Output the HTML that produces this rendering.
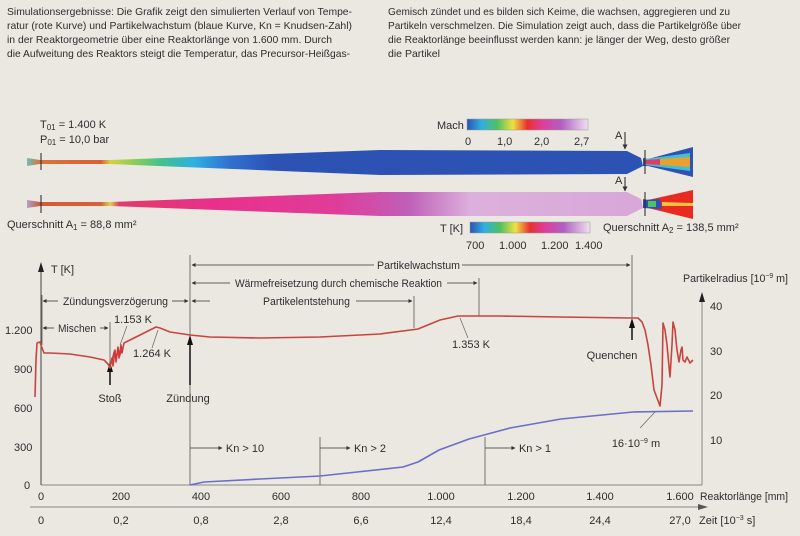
<!DOCTYPE html>
<html><head><meta charset="utf-8"><style>
html,body{margin:0;padding:0;background:#ebe7e1;}
svg{display:block;}
text{font-family:"Liberation Sans Narrow","Liberation Sans",sans-serif;fill:#2e2e2e;}
</style></head><body>
<svg width="800" height="536" viewBox="0 0 800 536" xmlns="http://www.w3.org/2000/svg">
<defs>
<linearGradient id="gU" x1="27" x2="643" gradientUnits="userSpaceOnUse">
<stop offset="0" stop-color="#6ac0c0"/><stop offset="0.02" stop-color="#d9743a"/>
<stop offset="0.12" stop-color="#d8603a"/><stop offset="0.135" stop-color="#d8d040"/>
<stop offset="0.17" stop-color="#90d050"/><stop offset="0.22" stop-color="#40c090"/>
<stop offset="0.27" stop-color="#30b0e0"/><stop offset="0.33" stop-color="#3070d0"/>
<stop offset="0.4" stop-color="#2c52b4"/><stop offset="1" stop-color="#2c52b4"/>
</linearGradient>
<linearGradient id="gL" x1="27" x2="643" gradientUnits="userSpaceOnUse">
<stop offset="0" stop-color="#b0a0d0"/><stop offset="0.02" stop-color="#d05a3a"/>
<stop offset="0.12" stop-color="#d8603a"/><stop offset="0.135" stop-color="#e0d050"/>
<stop offset="0.15" stop-color="#e03c6a"/><stop offset="0.3" stop-color="#e8308a"/>
<stop offset="0.5" stop-color="#e03c9a"/><stop offset="0.62" stop-color="#c060b8"/>
<stop offset="0.72" stop-color="#dcb0dc"/><stop offset="1" stop-color="#d8a8d8"/>
</linearGradient>
<linearGradient id="gBar" x1="0" x2="1">
<stop offset="0" stop-color="#2c52b4"/><stop offset="0.12" stop-color="#30b0e0"/>
<stop offset="0.25" stop-color="#50c060"/><stop offset="0.38" stop-color="#f0e040"/>
<stop offset="0.5" stop-color="#e83030"/><stop offset="0.62" stop-color="#e03c9a"/>
<stop offset="0.78" stop-color="#b060c0"/><stop offset="1" stop-color="#f0e0f0"/>
</linearGradient>
<marker id="ar" viewBox="0 0 10 10" refX="9" refY="5" markerWidth="5" markerHeight="5" orient="auto"><path d="M0,0 L10,5 L0,10z" fill="#333"/></marker>
</defs>

<g font-size="10.5">
<text x="7" y="15" textLength="345" lengthAdjust="spacingAndGlyphs">Simulationsergebnisse: Die Grafik zeigt den simulierten Verlauf von Tempe-</text>
<text x="7" y="29" textLength="345" lengthAdjust="spacingAndGlyphs">ratur (rote Kurve) und Partikelwachstum (blaue Kurve, Kn = Knudsen-Zahl)</text>
<text x="7" y="43" textLength="325" lengthAdjust="spacingAndGlyphs">in der Reaktorgeometrie über eine Reaktorlänge von 1.600 mm. Durch</text>
<text x="7" y="57" textLength="343" lengthAdjust="spacingAndGlyphs">die Aufweitung des Reaktors steigt die Temperatur, das Precursor-Heißgas-</text>
<text x="388" y="15" textLength="342" lengthAdjust="spacingAndGlyphs">Gemisch zündet und es bilden sich Keime, die wachsen, aggregieren und zu</text>
<text x="388" y="29" textLength="353" lengthAdjust="spacingAndGlyphs">Partikeln verschmelzen. Die Simulation zeigt auch, dass die Partikelgröße über</text>
<text x="388" y="43" textLength="342" lengthAdjust="spacingAndGlyphs">die Reaktorlänge beeinflusst werden kann: je länger der Weg, desto größer</text>
<text x="388" y="57" textLength="52" lengthAdjust="spacingAndGlyphs">die Partikel</text>
</g>

<path d="M27,158 L40,160 L110,160 L380,150 L627,151 L641,158 L643,166 L641,167 L627,174 L380,175 L110,164 L40,164 L27,166z" fill="url(#gU)"/>
<path d="M27,200 L40,202 L110,202 L380,192 L627,192 L641,199 L643,208 L641,209 L627,216 L380,216 L110,206 L40,206 L27,208z" fill="url(#gL)"/>
<path d="M643,158 L648,159 L693,147 L693,177 L648,166 L643,166z" fill="#2c52b4"/>
<path d="M645,159 L690,153 L690,171 L645,165z" fill="#40c0d0"/>
<path d="M646,160 L690,157 L690,167 L646,164z" fill="#e8a030"/>
<path d="M645,160 L660,159 L660,165 L645,164z" fill="#e03c6a"/>
<path d="M643,199 L648,200 L693,190 L693,219 L648,208 L643,208z" fill="#e82a20"/>
<path d="M643,200 L660,199 L662,209 L643,208z" fill="#2c52b4"/>
<path d="M648,201 L656,201 L656,207 L648,207z" fill="#50c060"/>
<path d="M662,202 L693,203 L693,206 L662,206z" fill="#f0c040"/>
<g stroke="#222" stroke-width="1" fill="#222">
<line x1="41" y1="153" x2="41" y2="170"/><line x1="41" y1="195" x2="41" y2="213"/>
<line x1="645" y1="150" x2="645" y2="174"/><line x1="645" y1="192" x2="645" y2="216"/>
<line x1="625" y1="132" x2="625" y2="149" marker-end="url(#ar)"/>
<line x1="625" y1="177" x2="625" y2="191" marker-end="url(#ar)"/>
</g>
<g font-size="11">
<text x="40" y="128">T<tspan font-size="8" dy="2">01</tspan><tspan dy="-2"> = 1.400 K</tspan></text>
<text x="40" y="143">P<tspan font-size="8" dy="2">01</tspan><tspan dy="-2"> = 10,0 bar</tspan></text>
<text x="7" y="228">Querschnitt A<tspan font-size="8" dy="2">1</tspan><tspan dy="-2"> = 88,8 mm²</tspan></text>
<text x="603" y="231">Querschnitt A<tspan font-size="8" dy="2">2</tspan><tspan dy="-2"> = 138,5 mm²</tspan></text>
<text x="615" y="139">A</text><text x="615" y="184">A</text>
<text x="437" y="129">Mach</text>
<text x="465" y="145">0</text><text x="497" y="145">1,0</text><text x="534" y="145">2,0</text><text x="574" y="145">2,7</text>
<text x="440" y="232">T [K]</text>
<text x="466" y="249">700</text><text x="499" y="249">1.000</text><text x="541" y="249">1.200</text><text x="575" y="249">1.400</text>
</g>
<rect x="467" y="119" width="121" height="11" fill="url(#gBar)" stroke="#999" stroke-width="0.5"/>
<rect x="470" y="222" width="120" height="11" fill="url(#gBar)" stroke="#999" stroke-width="0.5"/>

<g stroke="#888" stroke-width="1" fill="none">
<line x1="41" y1="485" x2="702" y2="485"/>
<line x1="702" y1="298" x2="702" y2="485"/>
<line x1="30" y1="507" x2="700" y2="507"/>
</g>
<line x1="41" y1="270" x2="41" y2="485" stroke="#444" stroke-width="1"/>
<path d="M38,272 L41,262 L44,272z" fill="#222"/>
<path d="M699,302 L702,292 L705,302z" fill="#222"/>
<path d="M698,504 L708,507 L698,510z" fill="#555"/>

<g stroke="#555" stroke-width="0.8" fill="none">
<line x1="190" y1="255" x2="190" y2="485"/>
<line x1="632" y1="255" x2="632" y2="318"/>
<line x1="479" y1="278" x2="479" y2="316"/>
<line x1="414" y1="296" x2="414" y2="328"/>
<line x1="110" y1="322" x2="110" y2="380"/>
<line x1="320" y1="437" x2="320" y2="485"/>
<line x1="485" y1="437" x2="485" y2="485"/>
<line x1="42" y1="295" x2="42" y2="345"/>
</g>
<g stroke="#333" stroke-width="0.8" marker-end="url(#ar)">
<line x1="374" y1="265" x2="192" y2="265"/><line x1="462" y1="265" x2="630" y2="265"/>
<line x1="230" y1="283" x2="192" y2="283"/><line x1="447" y1="283" x2="477" y2="283"/>
<line x1="58" y1="301" x2="43" y2="301"/><line x1="172" y1="301" x2="188" y2="301"/>
<line x1="210" y1="301" x2="192" y2="301"/><line x1="356" y1="301" x2="412" y2="301"/>
<line x1="54" y1="328" x2="43" y2="328"/><line x1="100" y1="328" x2="108" y2="328"/>
<line x1="190" y1="448" x2="222" y2="448"/><line x1="320" y1="448" x2="350" y2="448"/>
<line x1="485" y1="448" x2="515" y2="448"/>
</g>
<g font-size="11">
<text x="377" y="269" textLength="83" lengthAdjust="spacingAndGlyphs">Partikelwachstum</text>
<text x="235" y="287" textLength="207" lengthAdjust="spacingAndGlyphs">Wärmefreisetzung durch chemische Reaktion</text>
<text x="63" y="305" textLength="105" lengthAdjust="spacingAndGlyphs">Zündungsverzögerung</text>
<text x="263" y="305" textLength="87" lengthAdjust="spacingAndGlyphs">Partikelentstehung</text>
<text x="58" y="332" textLength="38" lengthAdjust="spacingAndGlyphs">Mischen</text>
</g>
<g font-size="11" text-anchor="middle">
<text x="133" y="323">1.153 K</text>
<text x="152" y="357">1.264 K</text>
<text x="471" y="348">1.353 K</text>
<text x="612" y="359">Quenchen</text>
<text x="110" y="402">Stoß</text>
<text x="188" y="402">Zündung</text>
<text x="636" y="447">16·10<tspan font-size="7" dy="-4">−9</tspan><tspan dy="4"> m</tspan></text>
<text x="245" y="452">Kn &gt; 10</text>
<text x="370" y="452">Kn &gt; 2</text>
<text x="535" y="452">Kn &gt; 1</text>
</g>
<g stroke="#666" stroke-width="0.7">
<line x1="127" y1="326" x2="120" y2="345"/>
<line x1="152" y1="348" x2="158" y2="330"/>
<line x1="468" y1="338" x2="460" y2="318"/>
<line x1="640" y1="428" x2="655" y2="412"/>
</g>
<g stroke="#111" stroke-width="1.5">
<line x1="110" y1="385" x2="110" y2="370"/><line x1="190" y1="385" x2="190" y2="343"/><line x1="632" y1="340" x2="632" y2="326"/>
</g>
<path d="M107,372 L110,362 L113,372z M187,345 L190,335 L193,345z M629,328 L632,318 L635,328z" fill="#111"/>

<g font-size="11">
<text x="51" y="273">T [K]</text>
<text x="5" y="334">1.200</text>
<text x="14" y="373">900</text>
<text x="14" y="412">600</text>
<text x="14" y="451">300</text>
<text x="24" y="489">0</text>
<text x="683" y="282" textLength="105" lengthAdjust="spacingAndGlyphs">Partikelradius [10<tspan font-size="7" dy="-4">−9</tspan><tspan dy="4"> m]</tspan></text>
<text x="710" y="310">40</text><text x="710" y="355">30</text><text x="710" y="399">20</text><text x="710" y="444">10</text>
</g>
<g font-size="11" text-anchor="middle">
<text x="41" y="500">0</text><text x="121" y="500">200</text><text x="201" y="500">400</text><text x="281" y="500">600</text>
<text x="361" y="500">800</text><text x="441" y="500">1.000</text><text x="521" y="500">1.200</text><text x="600" y="500">1.400</text><text x="680" y="500">1.600</text>
<text x="41" y="524">0</text><text x="121" y="524">0,2</text><text x="201" y="524">0,8</text><text x="281" y="524">2,8</text>
<text x="361" y="524">6,6</text><text x="441" y="524">12,4</text><text x="521" y="524">18,4</text><text x="600" y="524">24,4</text><text x="680" y="524">27,0</text>
</g>
<g font-size="11">
<text x="700" y="500" textLength="88" lengthAdjust="spacingAndGlyphs">Reaktorlänge [mm]</text>
<text x="699" y="524">Zeit [10<tspan font-size="7" dy="-4">−3</tspan><tspan dy="4"> s]</tspan></text>
</g>

<polyline fill="none" stroke="#c8443f" stroke-width="1.6" stroke-linejoin="round" points="35,397 36,360 37,343 40,342 42,348 44,353 50,353 70,354 90,357 104,360 108,364 110,368 112,358 113,366 115,350 116,362 118,347 119,358 121,345 122,353 124,343 130,340 140,335 150,330 156,327 160,328 170,332 190,335 210,337 260,338 320,337 380,334 418,329 440,320 458,316 500,316 560,317 630,318 638,318 642,322 645,330 648,345 651,365 654,390 657,398 660,406 662,385 663,323 665,330 667,345 670,377 672,345 673,322 675,330 677,350 679,362 681,350 682,347 683,360 685,362 687,357 690,363 693,360"/>
<polyline fill="none" stroke="#d8303a" stroke-width="1.2" points="112,360 114,352 116,358 118,349 120,355 122,347"/>
<polyline fill="none" stroke="#6a6ec8" stroke-width="1.6" stroke-linejoin="round" points="190,485 204,482 260,479 320,476 357,472 403,467 418,462 439,450 469,439 510,428 561,419 633,412 693,411"/>
</svg>
</body></html>
